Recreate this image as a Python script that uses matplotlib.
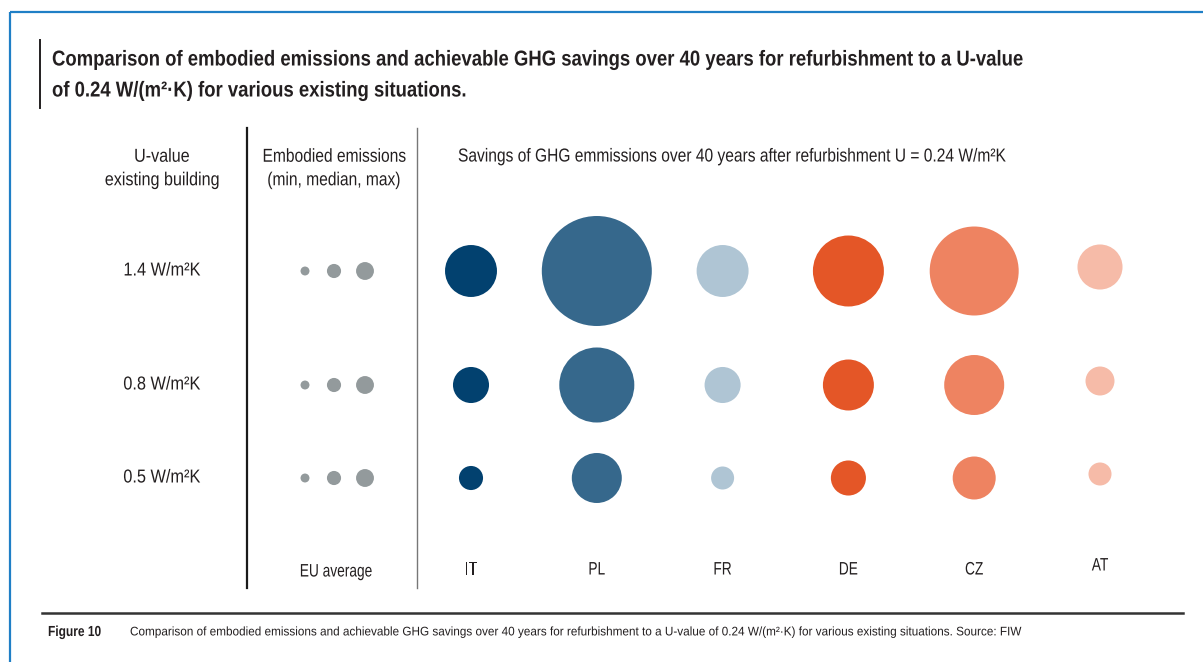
import numpy as np
import matplotlib
matplotlib.use("Agg")
import matplotlib.pyplot as plt
from matplotlib.patheffects import AbstractPathEffect
from matplotlib.transforms import Affine2D

plt.rcParams["font.family"] = ["Liberation Sans", "DejaVu Sans"]

# Data
u_values = ["1.4 W/m²K", "0.8 W/m²K", "0.5 W/m²K"]
countries = ["IT", "PL", "FR", "DE", "CZ", "AT"]
country_colors = ["#02416f", "#36688c", "#afc5d4", "#e45627", "#ee8361", "#f6bba8"]

# savings of GHG emissions over 40 years (relative units, proportional to bubble area)
savings_14 = [27.0, 121.0, 27.0, 50.4, 79.2, 20.3]
savings_08 = [13.0, 56.3, 13.0, 26.0, 36.0, 8.4]
savings_05 = [5.8, 25.0, 5.3, 12.3, 18.5, 5.3]
savings = [savings_14, savings_08, savings_05]

# embodied emissions EU average (min, median, max), same units
embodied_min = [0.8, 0.8, 0.8]
embodied_median = [2.0, 2.0, 2.0]
embodied_max = [3.2, 3.2, 3.2]


# squeeze text horizontally to mimic a condensed typeface
class Condensed(AbstractPathEffect):
    def __init__(self, sx=0.85, ha="left"):
        super().__init__()
        self.sx = sx
        self.ha = ha

    def draw_path(self, renderer, gc, tpath, affine, rgbFace=None):
        w = tpath.get_extents().x1
        shift = {"left": 0.0, "center": 0.5, "right": 1.0}[self.ha] * (1 - self.sx) * w
        t = Affine2D().scale(self.sx, 1).translate(shift, 0) + affine
        renderer.draw_path(gc, tpath, t, rgbFace)


def label(ax, x, y, s, size, sx=0.85, ha="left", **kw):
    return ax.text(x, y, s, fontsize=size, ha=ha, va="center", color=text_col,
                   path_effects=[Condensed(sx, ha)], **kw)


# Layout (pixel coordinates of the figure)
W, H = 1203, 662
row_y = np.array([271, 385, 478])
col_x = np.linspace(471, 1100, len(countries))
col_dy = [0, 0, 0, 0, 0, -4]  # AT column sits a little higher in the original
eu_x = [305, 334, 365]
text_col = "#231f20"
size_scale = 100 / (100 / 72) ** 2  # value -> marker area in pt^2

fig = plt.figure(figsize=(W / 100, H / 100), dpi=100)
ax = fig.add_axes([0, 0, 1, 1])
ax.set_xlim(0, W)
ax.set_ylim(H, 0)
ax.axis("off")

# frame
ax.plot([10, 10], [12, H], color="#1f7fc6", lw=1.6, solid_capstyle="butt")
ax.plot([10, W], [12, 12], color="#1f7fc6", lw=1.6, solid_capstyle="butt")

# title
ax.plot([40, 40], [40, 108], color=text_col, lw=1.4)
label(ax, 52, 60, "Comparison of embodied emissions and achievable GHG savings over 40 years for refurbishment to a U-value",
      15.5, sx=0.86, fontweight="bold")
label(ax, 52, 91, "of 0.24 W/(m²·K) for various existing situations.", 15.5, sx=0.86, fontweight="bold")

# column dividers
ax.plot([247, 247], [128, 588], color="#1a1a1a", lw=1.6)
ax.plot([417, 417], [128, 588], color="#777777", lw=1.0)

# column headers
label(ax, 162, 169, "U-value\nexisting building", 13.5, sx=0.86, ha="center", linespacing=1.5)
label(ax, 334, 169, "Embodied emissions\n(min, median, max)", 13.5, sx=0.83, ha="center", linespacing=1.5)
label(ax, 458, 157, "Savings of GHG emmissions over 40 years after refurbishment U = 0.24 W/m²K", 13.5, sx=0.83)

# row labels
for lab, y in zip(u_values, row_y):
    label(ax, 162, y, lab, 13.5, sx=0.87, ha="center")

# EU average dots
for vals, x in zip([embodied_min, embodied_median, embodied_max], eu_x):
    ax.scatter([x] * len(row_y), row_y, s=np.array(vals) * size_scale,
               color="#939a9c", linewidths=0, zorder=3)

# country bubbles
for row, y in zip(savings, row_y):
    ax.scatter(col_x, y + np.array(col_dy), s=np.array(row) * size_scale,
               color=country_colors, linewidths=0, zorder=3)

# bottom labels
label(ax, 336, 572, "EU average", 13, sx=0.76, ha="center")
for c, x, dy in zip(countries, col_x, col_dy):
    label(ax, x, 570 + dy, c, 13, sx=0.76, ha="center")

# caption
ax.plot([42, 1183], [613, 613], color="#333333", lw=1.8)
label(ax, 48, 632, "Figure 10", 10.5, sx=0.82, fontweight="bold")
label(ax, 130, 632, "Comparison of embodied emissions and achievable GHG savings over 40 years for refurbishment "
      "to a U-value of 0.24 W/(m²·K) for various existing situations. Source: FIW", 9, sx=0.94)

fig.savefig("out.png", dpi=100, facecolor="white")
